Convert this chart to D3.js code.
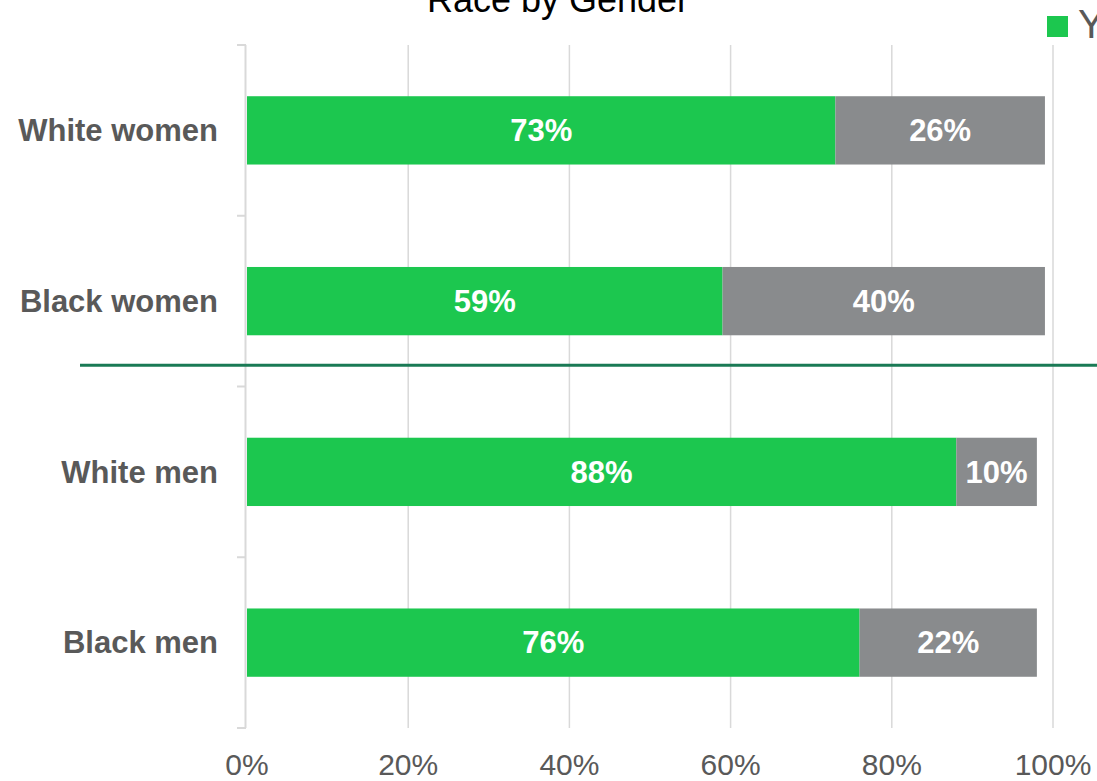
<!DOCTYPE html>
<html>
<head>
<meta charset="utf-8">
<script src="https://cdn.jsdelivr.net/npm/d3@7"></script>
<style>
  html, body { margin: 0; padding: 0; background: #fff; overflow: hidden; }
  svg { display: block; font-family: "Liberation Sans", Arial, sans-serif; }
</style>
</head>
<body>
<div id="chart"></div>
<script>
// data
var categories = ["White women", "Black women", "White men", "Black men"];
var yesValues = [0.73, 0.59, 0.88, 0.76];
var noValues = [0.26, 0.40, 0.10, 0.22];
var seriesNames = ["Yes", "No"];
var xTicks = [0, 0.2, 0.4, 0.6, 0.8, 1.0];

var width = 1097, height = 781;
var colors = { Yes: "#1cc74f", No: "#898b8d" };

var svg = d3.select("#chart")
  .append("svg")
    .attr("width", width)
    .attr("height", height);

// scales
var x = d3.scaleLinear()
    .domain([0, 1])
    .range([247, 1053]);

var y = d3.scaleBand()
    .domain(categories)
    .range([45, 728])
    .paddingInner(0.6)
    .paddingOuter(0.3);

var step = y.step();

// gridlines
svg.append("g")
  .selectAll("line")
  .data(xTicks.slice(1))
  .enter()
  .append("line")
    .attr("x1", function(d) { return x(d); })
    .attr("x2", function(d) { return x(d); })
    .attr("y1", 45)
    .attr("y2", 728)
    .attr("stroke", "#d9d9d9")
    .attr("stroke-width", 1.5);

// left axis line with ticks at band boundaries
var boundaries = categories.map(function(c) { return y(c) - step * 0.3; });
boundaries.push(y(categories[categories.length - 1]) + y.bandwidth() + step * 0.3);

svg.append("line")
    .attr("x1", 245.5).attr("x2", 245.5)
    .attr("y1", 45).attr("y2", 728)
    .attr("stroke", "#d9d9d9")
    .attr("stroke-width", 2);

svg.append("g")
  .selectAll("line")
  .data(boundaries)
  .enter()
  .append("line")
    .attr("x1", 237).attr("x2", 246)
    .attr("y1", function(d) { return d; })
    .attr("y2", function(d) { return d; })
    .attr("stroke", "#d9d9d9")
    .attr("stroke-width", 2);

// stacked bars
var rows = categories.map(function(c, i) {
  return { cat: c, yes: yesValues[i], no: noValues[i] };
});
var stack = d3.stack().keys(["yes", "no"]);
var stacked = stack(rows);

var layers = svg.append("g")
  .selectAll("g")
  .data(stacked)
  .enter()
  .append("g")
    .attr("fill", function(d, i) { return colors[seriesNames[i]]; });

layers.selectAll("rect")
  .data(function(d) { return d; })
  .enter()
  .append("rect")
    .attr("x", function(d) { return x(d[0]); })
    .attr("width", function(d) { return x(d[1]) - x(d[0]); })
    .attr("y", function(d) { return y(d.data.cat); })
    .attr("height", y.bandwidth());

// data labels
layers.selectAll("text")
  .data(function(d) { return d; })
  .enter()
  .append("text")
    .attr("x", function(d) { return (x(d[0]) + x(d[1])) / 2; })
    .attr("y", function(d) { return y(d.data.cat) + y.bandwidth() / 2; })
    .attr("dy", "0.35em")
    .attr("text-anchor", "middle")
    .attr("fill", "#fff")
    .attr("font-weight", "bold")
    .attr("font-size", 31)
    .text(function(d) { return Math.round((d[1] - d[0]) * 100) + "%"; });

// category labels
svg.append("g")
  .selectAll("text")
  .data(categories)
  .enter()
  .append("text")
    .attr("x", 218)
    .attr("y", function(d) { return y(d) + y.bandwidth() / 2; })
    .attr("dy", "0.35em")
    .attr("text-anchor", "end")
    .attr("fill", "#595959")
    .attr("font-weight", "bold")
    .attr("font-size", 31)
    .text(function(d) { return d; });

// x tick labels
svg.append("g")
  .selectAll("text")
  .data(xTicks)
  .enter()
  .append("text")
    .attr("x", function(d) { return x(d); })
    .attr("y", 775)
    .attr("text-anchor", "middle")
    .attr("fill", "#595959")
    .attr("font-size", 30)
    .text(function(d) { return Math.round(d * 100) + "%"; });

// separator between women and men
var sepY = y("Black women") + y.bandwidth() + 30;
svg.append("line")
    .attr("x1", 80).attr("x2", width)
    .attr("y1", sepY).attr("y2", sepY)
    .attr("stroke", "#1a7a55")
    .attr("stroke-width", 3);

// title
svg.append("text")
    .attr("x", 558)
    .attr("y", 12)
    .attr("text-anchor", "middle")
    .attr("fill", "#000")
    .attr("font-size", 36)
    .text("Race by Gender");

// legend (cut off at right edge)
var legend = svg.append("g").attr("transform", "translate(1047,16)");
legend.append("rect")
    .attr("width", 21).attr("height", 21)
    .attr("fill", colors.Yes);
legend.append("text")
    .attr("x", 31)
    .attr("y", 22)
    .attr("fill", "#595959")
    .attr("font-size", 40)
    .text(seriesNames[0]);
</script>
</body>
</html>
